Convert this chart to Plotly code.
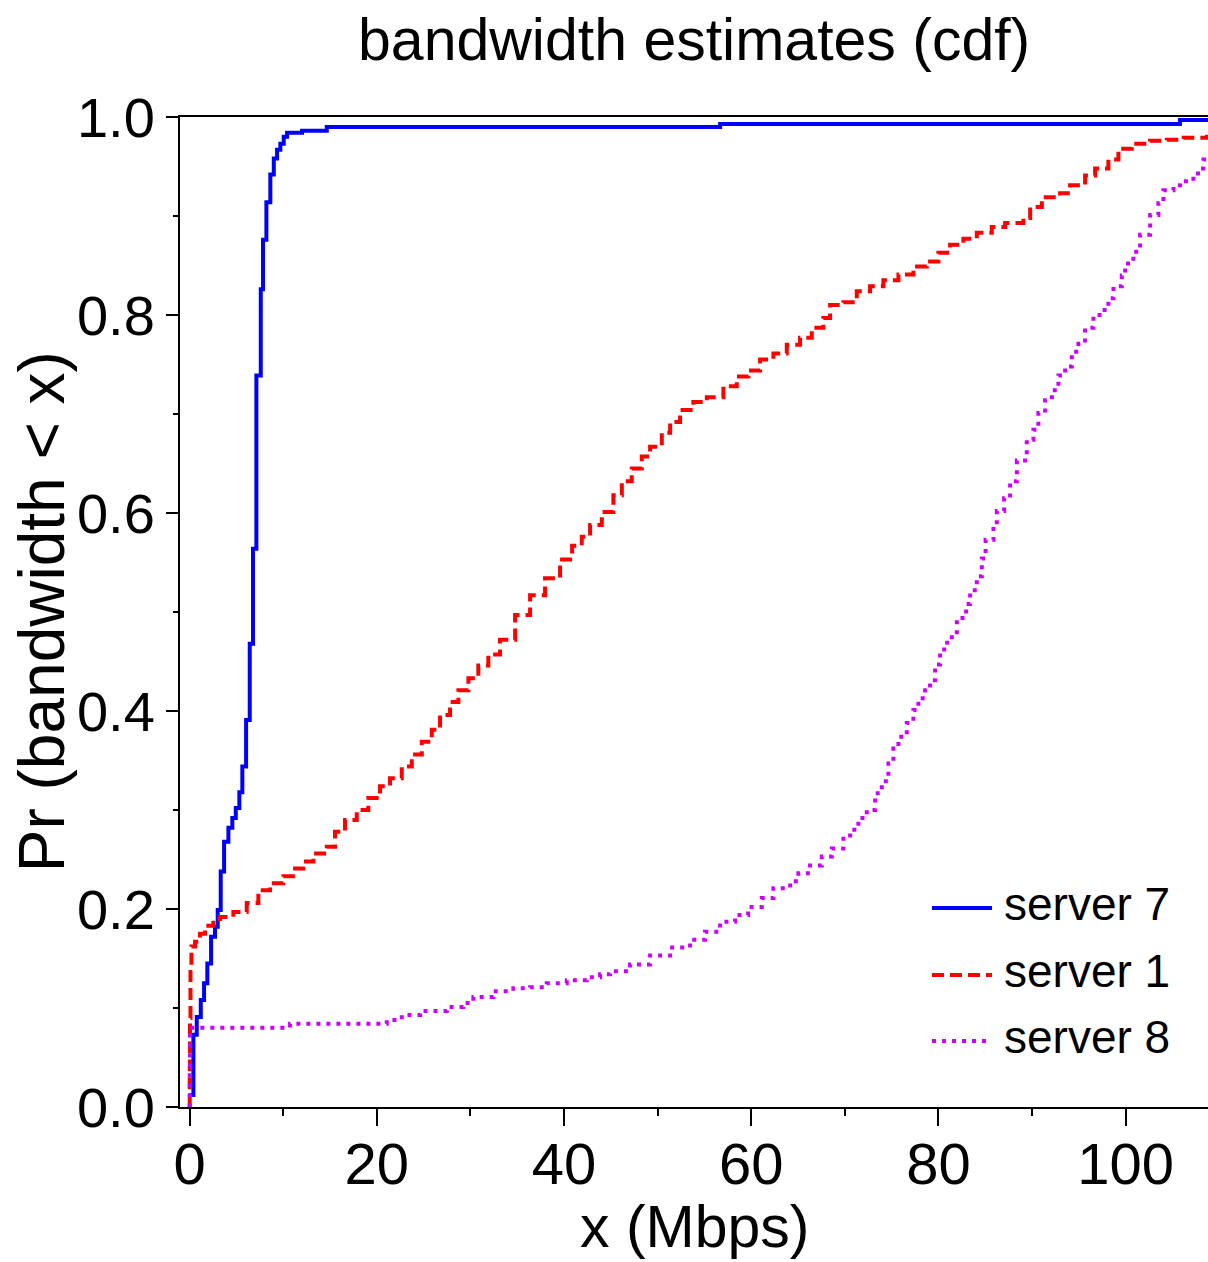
import plotly.graph_objects as go

# Empirical CDFs of bandwidth estimates (Mbps) per server: step positions and
# cumulative probability after each step.
server7_mbps = [0.0, 0.41, 0.77, 1.20, 1.55, 1.90, 2.30, 2.72, 3.01, 3.33, 3.69, 4.15,
                4.57, 4.94, 5.32, 5.64, 6.04, 6.43, 6.78, 7.14, 7.61, 7.85, 8.21, 8.63,
                9.00, 9.35, 9.70, 10.06, 10.42, 12.02, 14.66, 56.68, 105.8, 110.0]
server7_cdf = [0.012, 0.073, 0.091, 0.108, 0.125, 0.145, 0.172, 0.182, 0.199, 0.238, 0.268,
               0.282, 0.292, 0.302, 0.318, 0.344, 0.391, 0.468, 0.564, 0.739, 0.826, 0.876,
               0.914, 0.942, 0.958, 0.967, 0.973, 0.980, 0.984, 0.986, 0.990, 0.993, 0.997,
               0.997]

server1_mbps = [0.0, 0.02, 0.05, 0.10, 0.20, 0.59, 1.12, 1.66, 2.54, 3.26, 4.68, 6.11,
                7.35, 8.60, 10.02, 11.27, 12.16, 13.23, 14.66, 15.54, 16.61, 17.86, 19.10,
                20.35, 21.42, 22.67, 23.74, 24.81, 25.88, 26.76, 27.83, 28.72, 29.79, 30.85,
                31.92, 33.17, 34.78, 36.38, 37.98, 39.58, 40.87, 41.90, 42.79, 44.04, 45.28,
                46.18, 47.24, 48.31, 49.20, 50.45, 51.34, 52.40, 53.82, 55.26, 57.03, 58.46,
                59.70, 60.95, 62.37, 63.80, 65.22, 66.47, 67.71, 68.43, 69.85, 71.28, 72.70,
                74.12, 75.73, 77.33, 78.76, 80.00, 81.25, 82.67, 84.10, 85.70, 87.13, 89.08,
                89.80, 91.05, 93.00, 94.07, 95.67, 96.74, 98.16, 99.23, 100.66, 102.6, 104.4,
                106.2, 108.7, 110.0]
server1_cdf = [0.0, 0.04, 0.09, 0.14, 0.162, 0.167, 0.175, 0.183, 0.190, 0.192, 0.197, 0.206,
               0.219, 0.226, 0.233, 0.241, 0.248, 0.256, 0.263, 0.278, 0.290, 0.300, 0.312,
               0.324, 0.332, 0.344, 0.356, 0.369, 0.381, 0.396, 0.409, 0.421, 0.433, 0.446,
               0.457, 0.472, 0.497, 0.517, 0.534, 0.553, 0.567, 0.576, 0.588, 0.601, 0.618,
               0.632, 0.645, 0.657, 0.667, 0.681, 0.692, 0.704, 0.712, 0.717, 0.728, 0.738,
               0.744, 0.755, 0.761, 0.770, 0.777, 0.787, 0.797, 0.810, 0.813, 0.824, 0.829,
               0.835, 0.841, 0.849, 0.854, 0.863, 0.871, 0.877, 0.883, 0.889, 0.893, 0.898,
               0.909, 0.919, 0.923, 0.931, 0.941, 0.948, 0.957, 0.968, 0.973, 0.976, 0.977,
               0.979, 0.980, 0.980]

server8_mbps = [0.0, 0.02, 0.05, 10.74, 21.07, 22.67, 24.63, 27.48, 29.25, 30.32, 32.46,
                34.59, 36.38, 38.16, 40.30, 42.44, 43.86, 44.93, 47.06, 49.20, 51.34, 53.47,
                55.07, 56.68, 58.28, 59.67, 61.13, 62.37, 64.16, 65.04, 66.29, 67.54, 68.61,
                69.85, 70.57, 71.45, 72.35, 73.24, 73.95, 74.66, 75.19, 75.73, 76.62, 77.33,
                77.86, 78.58, 79.11, 79.65, 80.18, 80.93, 81.43, 81.97, 82.96, 83.39, 84.10,
                84.64, 85.04, 85.88, 86.24, 87.02, 87.66, 88.38, 89.26, 89.44, 90.15, 90.68,
                91.40, 92.12, 92.82, 93.54, 94.25, 94.96, 95.67, 96.56, 97.46, 98.16, 98.70,
                99.59, 99.95, 100.83, 101.55, 102.62, 103.50, 104.04, 105.11, 105.82, 107.24,
                107.96, 108.31, 109.05]
server8_cdf = [0.0, 0.04, 0.080, 0.084, 0.088, 0.093, 0.097, 0.101, 0.105, 0.111, 0.117,
               0.120, 0.121, 0.125, 0.128, 0.131, 0.134, 0.137, 0.144, 0.153, 0.161, 0.169,
               0.177, 0.187, 0.194, 0.202, 0.211, 0.221, 0.228, 0.236, 0.244, 0.253, 0.261,
               0.271, 0.280, 0.292, 0.300, 0.317, 0.329, 0.347, 0.362, 0.374, 0.388, 0.401,
               0.413, 0.421, 0.431, 0.447, 0.462, 0.469, 0.477, 0.494, 0.508, 0.522, 0.536,
               0.554, 0.573, 0.586, 0.602, 0.615, 0.632, 0.653, 0.657, 0.674, 0.684, 0.701,
               0.714, 0.724, 0.739, 0.748, 0.763, 0.771, 0.787, 0.800, 0.805, 0.817, 0.829,
               0.840, 0.852, 0.864, 0.881, 0.901, 0.913, 0.926, 0.931, 0.935, 0.943, 0.948,
               0.957, 0.962]

series = [
    ("server 7", server7_mbps, server7_cdf, "#0000FF", "solid"),
    ("server 1", server1_mbps, server1_cdf, "#FF0000", "12px,6px"),
    ("server 8", server8_mbps, server8_cdf, "#CC00FF", "4px,6px"),
]

x_ticks = [0, 20, 40, 60, 80, 100]
y_ticks = [0.0, 0.2, 0.4, 0.6, 0.8, 1.0]
y_tick_text = ["0.0", "0.2", "0.4", "0.6", "0.8", "1.0"]

FONT = "Liberation Sans, Arial, Helvetica, sans-serif"

fig = go.Figure()
for name, xs, ys, color, dash in series:
    fig.add_trace(go.Scatter(
        x=xs, y=ys, name=name, mode="lines",
        line=dict(color=color, width=4, dash=dash, shape="hv"),
        showlegend=False,
    ))

# Key in the lower right corner of the plot area
key_rows = [0.201, 0.1333, 0.0667]
for (name, _, _, color, dash), yk in zip(series, key_rows):
    fig.add_shape(type="line", xref="paper", yref="paper",
                  x0=0.7315, x1=0.7899, y0=yk, y1=yk,
                  line=dict(color=color, width=4, dash=dash))
    fig.add_annotation(text=name, xref="paper", yref="paper", x=0.7996, y=yk + 0.004,
                       xanchor="left", yanchor="middle", showarrow=False,
                       font=dict(family=FONT, size=46, color="black"))

# Chart title and axis titles
fig.add_annotation(text="bandwidth estimates (cdf)", xref="paper", yref="paper",
                   x=0.5, y=1.0778, xanchor="center", yanchor="middle", showarrow=False,
                   font=dict(family=FONT, size=59, color="black"))
fig.add_annotation(text="x (Mbps)", xref="paper", yref="paper",
                   x=0.5, y=-0.1212, xanchor="center", yanchor="middle", showarrow=False,
                   font=dict(family=FONT, size=59, color="black"))
fig.add_annotation(text="Pr (bandwidth < x)", xref="paper", yref="paper",
                   x=-0.1340, y=0.5, xanchor="center", yanchor="middle", showarrow=False,
                   textangle=-90,
                   font=dict(family=FONT, size=64, color="black"))

fig.update_layout(
    width=1208, height=1262,
    margin=dict(l=180, r=0, t=117, b=155),
    paper_bgcolor="white", plot_bgcolor="white",
)

fig.update_xaxes(
    range=[-1.02, 108.8], tickvals=x_ticks, ticktext=[str(v) for v in x_ticks],
    ticks="outside", ticklen=17, tickwidth=2, tickcolor="black",
    minor=dict(dtick=10, tick0=0, ticks="outside", ticklen=7, tickwidth=2, tickcolor="black"),
    showline=True, linewidth=2, linecolor="black", mirror=True,
    showgrid=False, zeroline=False, ticklabelstandoff=-12,
    tickfont=dict(family=FONT, size=58, color="black"),
)
fig.update_yaxes(
    range=[0, 1], tickvals=y_ticks, ticktext=y_tick_text,
    ticks="outside", ticklen=12, tickwidth=2, tickcolor="black",
    minor=dict(dtick=0.1, tick0=0, ticks="outside", ticklen=5, tickwidth=2, tickcolor="black"),
    showline=True, linewidth=2, linecolor="black",
    showgrid=False, zeroline=False,
    tickfont=dict(family=FONT, size=56, color="black"),
)

fig.write_html("out.html")
